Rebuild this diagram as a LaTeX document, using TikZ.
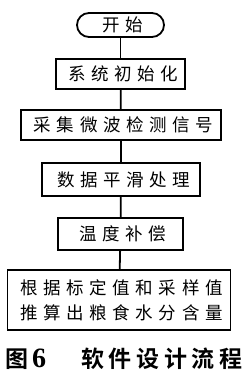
\documentclass[tikz,border=0pt]{standalone}
\usepackage{fontspec}
\newfontfamily\boxfont[LetterSpace=32]{Noto Sans CJK SC}
\newfontfamily\capfont[LetterSpace=20]{Noto Sans CJK SC Bold}
\newfontfamily\numfont{Liberation Serif}
\begin{document}
\begin{tikzpicture}[x=1pt,y=1pt,
  box/.style={draw=black, line width=1.8pt, inner sep=0pt, align=center,
    font=\fontsize{17.5}{25}\boxfont},
  term/.style={box, rounded corners=12pt},
  link/.style={draw=black, line width=1.8pt},
  captext/.style={inner sep=0pt, font=\fontsize{23}{26}\capfont}]
\useasboundingbox (0,0) rectangle (242,-379);
\node[term, minimum width=87, minimum height=24] (start) at (120.5,-25) {开始\kern-5pt};
\node[box, minimum width=129, minimum height=30] (b1) at (120.5,-74) {系统初始化\kern-5pt};
\node[box, minimum width=200, minimum height=30] (b2) at (121,-125) {采集微波检测信号\kern-5pt};
\node[box, minimum width=158, minimum height=33] (b3) at (121,-179.5) {数据平滑处理\kern-5pt};
\node[box, minimum width=125, minimum height=32] (b4) at (120.5,-234) {温度补偿\kern-5pt};
\node[box, minimum width=223, minimum height=60] (b5) at (119,-300) {根据标定值和采样值\kern-5pt\\推算出粮食水分含量\kern-5pt};
\node[captext, anchor=west] (capnum) at (5,-359) {图\hspace{4pt}{\numfont\bfseries\fontsize{28}{28}\selectfont 6}};
\node[captext, anchor=east] (captitle) at (238,-359) {软件设计流程\kern-4.6pt};
\draw[link] (start) -- (b1);
\draw[link] (b1) -- (b2);
\draw[link] (b2) -- (b3);
\draw[link] (b3) -- (b4);
\draw[link] (b4) -- (b5);
\end{tikzpicture}
\end{document}
